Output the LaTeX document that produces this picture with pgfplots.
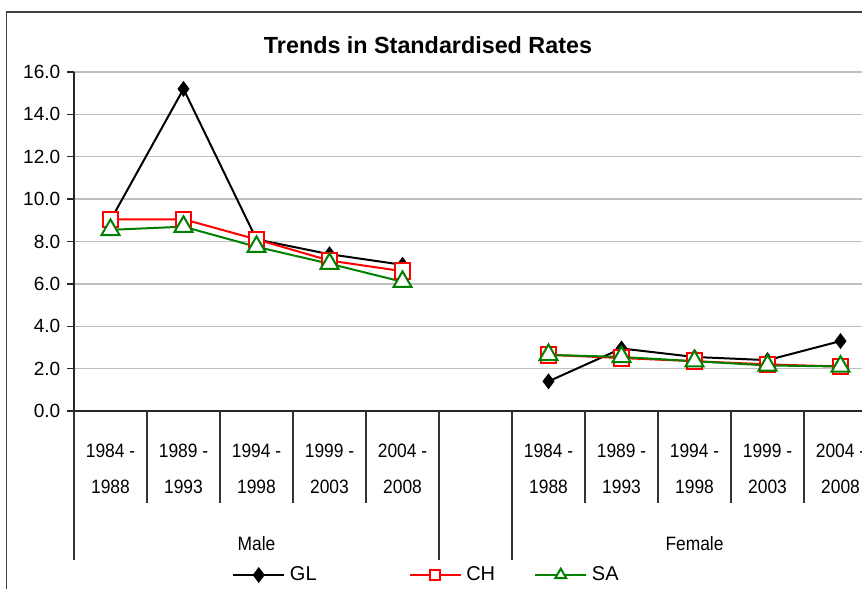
\documentclass[border=0pt]{standalone}
\usepackage{pgfplots}
\pgfplotsset{compat=1.18}
\usepackage{fontspec}
\setmainfont{Liberation Sans}
\newfontfamily\narrowfont[FakeStretch=0.9]{Liberation Sans}
\definecolor{glLine}{HTML}{000000}
\definecolor{chLine}{HTML}{FF0000}
\definecolor{saLine}{HTML}{008000}
\definecolor{gridGray}{HTML}{BFBFBF}
\definecolor{frameInk}{HTML}{404040}

\begin{document}
\begin{tikzpicture}
  % page is 862x588 px, 1px = 0.75pt
  \useasboundingbox (0,0) rectangle (646.5pt,441pt);
  \draw[frameInk, line width=1.1pt] (4.8pt,432pt) rectangle (700pt,-20pt);
  \node[font=\bfseries\fontsize{17.5}{20}\selectfont] at (321pt,407pt) {Trends in Standardised Rates};

  \begin{axis}[
    at={(55.5pt,132.75pt)},
    anchor=south west,
    scale only axis,
    width=602.25pt,
    height=254.25pt,
    xmin=-0.5, xmax=10.5,
    ymin=0, ymax=16,
    ytick={0,2,...,16},
    xtick={0,1,2,3,4,6,7,8,9,10},
    xticklabels={{1984 -\\1988},{1989 -\\1993},{1994 -\\1998},{1999 -\\2003},{2004 -\\2008},
                 {1984 -\\1988},{1989 -\\1993},{1994 -\\1998},{1999 -\\2003},{2004 -\\2008}},
    xticklabel style={anchor=center, yshift=-38.25pt, align=center,
      font=\narrowfont\fontsize{14.5}{27}\selectfont},
    xtick style={draw=none},
    yticklabel style={font=\fontsize{14.3}{16}\selectfont, xshift=-1.5pt,
      /pgf/number format/.cd, fixed, fixed zerofill, precision=1, assume math mode=true},
    axis lines=left,
    axis line style={-, draw=black!85, line width=1.3pt},
    tick align=outside,
    major tick length=5.25pt,
    ytick style={draw=black!85, line width=1pt},
    ymajorgrids,
    major grid style={draw=gridGray, line width=1.1pt},
    unbounded coords=jump,
    clip=false,
    legend style={
      at={(0.1968,-0.4838)}, anchor=west,
      draw=none, fill=none, inner sep=0pt,
      legend columns=3,
      nodes={inner sep=0pt},
      font=\fontsize{15}{16}\selectfont,
      /tikz/every odd column/.append style={column sep=3.5pt},
      /tikz/every even column/.append style={column sep=0pt},
    },
    legend image code/.code={
      \draw[mark repeat=2, mark phase=2, #1]
        plot coordinates {(0pt,0pt) (19.1pt,0pt) (38.25pt,0pt)};
    },
  ]
    \addplot[glLine, line width=1.5pt, mark=diamond*, mark size=5.2pt,
      mark options={fill=glLine, line width=1pt}]
      coordinates {(0,9.0) (1,15.2) (2,8.1) (3,7.4) (4,6.9) (5,nan)
                   (6,1.4) (7,2.95) (8,2.55) (9,2.4) (10,3.3)};
    \addlegendentry{\makebox[89pt][l]{GL}}
    \addplot[chLine, line width=1.5pt, mark=square*, mark size=5.8pt,
      mark options={fill=white, line width=1.5pt},
      legend image post style={mark size=3.6pt}]
      coordinates {(0,9.05) (1,9.05) (2,8.1) (3,7.1) (4,6.6) (5,nan)
                   (6,2.65) (7,2.5) (8,2.35) (9,2.2) (10,2.1)};
    \addlegendentry{\makebox[51pt][l]{CH}}
    \addplot[saLine, line width=1.5pt, mark=triangle*, mark size=7.8pt,
      mark options={fill=white, line width=1.5pt},
      legend image post style={mark size=4.8pt}]
      coordinates {(0,8.55) (1,8.7) (2,7.75) (3,6.95) (4,6.1) (5,nan)
                   (6,2.65) (7,2.55) (8,2.35) (9,2.15) (10,2.1)};
    \addlegendentry{SA}

    % category separators
    \pgfplotsinvokeforeach{0.5,1.5,2.5,3.5,6.5,7.5,8.5,9.5}{
      \draw[black!80, line width=0.9pt] (axis cs:#1,0) -- ([yshift=-69pt]axis cs:#1,0);
    }
    \pgfplotsinvokeforeach{-0.5,4.5,5.5,10.5}{
      \draw[black!80, line width=0.9pt] (axis cs:#1,0) -- ([yshift=-111.75pt]axis cs:#1,0);
    }
    \node[font=\narrowfont\fontsize{14.5}{16}\selectfont] at ([yshift=-99.75pt]axis cs:2,0) {Male};
    \node[font=\narrowfont\fontsize{14.5}{16}\selectfont] at ([yshift=-99.75pt]axis cs:8,0) {Female};
  \end{axis}
\end{tikzpicture}
\end{document}
